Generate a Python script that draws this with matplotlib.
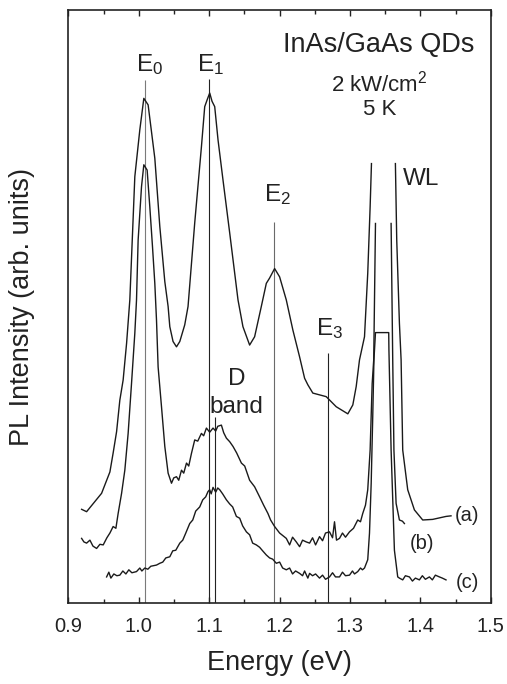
import numpy as np
import matplotlib
matplotlib.use("Agg")
import matplotlib.pyplot as plt
from matplotlib.ticker import MultipleLocator

plt.rcParams['font.family'] = ['Liberation Sans', 'DejaVu Sans']
plt.rcParams['mathtext.fontset'] = 'custom'
plt.rcParams['mathtext.rm'] = 'Liberation Sans'
plt.rcParams['mathtext.it'] = 'Liberation Sans:italic'
plt.rcParams['mathtext.bf'] = 'Liberation Sans:bold'

nan = np.nan

# ---- curve (a) ----
energy_a = [0.9187, 0.9258, 0.9471, 0.9589, 0.9635, 0.9684, 0.9730, 0.9777, 0.9826, 0.9872,
            0.9943, 1.0014, 1.0071, 1.0132, 1.0227, 1.0298, 1.0369, 1.0416, 1.0440, 1.0486,
            1.0535, 1.0582, 1.0652, 1.0699, 1.0794, 1.0889, 1.0936, 1.0975, 1.1007, 1.1040,
            1.1078, 1.1125, 1.1196, 1.1291, 1.1409, 1.1479, 1.1574, 1.1645, 1.1740, 1.1811,
            1.1858, 1.1929, 1.2000, 1.2095, 1.2189, 1.2284, 1.2355, 1.2401, 1.2472, 1.2662,
            1.2804, 1.2969, 1.3040, 1.3088, 1.3135, 1.3206, 1.3252, 1.3286, 1.3305, 1.3480,
            1.3645, 1.3664, 1.3702, 1.3726, 1.3749, 1.3820, 1.3915, 1.4033, 1.4174, 1.4364,
            1.4435]
int_a = [15.8, 15.4, 18.5, 22.1, 25.3, 28.9, 34.2, 37.6, 43.8, 51.1,
         71.9, 79.8, 85.1, 84.0, 75.0, 63.5, 54.2, 50.0, 46.6, 44.1,
         43.2, 44.1, 46.9, 50.0, 64.1, 76.9, 83.7, 85.0, 86.0, 84.6,
         83.7, 78.1, 71.3, 62.4, 51.1, 46.6, 43.5, 44.9, 50.0, 53.9,
         54.8, 56.4, 55.0, 51.1, 46.0, 41.5, 37.9, 36.8, 35.4, 34.8,
         33.1, 31.9, 33.4, 36.5, 41.0, 44.9, 55.6, 66.8, 74.1, nan,
         74.1, 61.2, 47.2, 41.0, 25.8, 19.1, 15.7, 14.0, 14.1, 14.6,
         14.7]

# ---- curve (b) ----
energy_b = [0.9187, 0.9220, 0.9258, 0.9305, 0.9348, 0.9400, 0.9447, 0.9494, 0.9546, 0.9589,
            0.9635, 0.9674, 0.9706, 0.9755, 0.9801, 0.9848, 0.9896, 0.9943, 0.9967, 0.9990,
            1.0038, 1.0071, 1.0118, 1.0156, 1.0194, 1.0227, 1.0251, 1.0274, 1.0322, 1.0369,
            1.0416, 1.0464, 1.0496, 1.0535, 1.0567, 1.0606, 1.0638, 1.0677, 1.0709, 1.0747,
            1.0794, 1.0837, 1.0889, 1.0921, 1.0960, 1.1007, 1.1054, 1.1092, 1.1121, 1.1173,
            1.1206, 1.1244, 1.1291, 1.1338, 1.1390, 1.1457, 1.1504, 1.1574, 1.1645, 1.1716,
            1.1773, 1.1834, 1.1872, 1.1929, 1.2000, 1.2095, 1.2142, 1.2184, 1.2237, 1.2284,
            1.2326, 1.2379, 1.2426, 1.2468, 1.2511, 1.2567, 1.2610, 1.2652, 1.2709, 1.2752,
            1.2780, 1.2808, 1.2851, 1.2893, 1.2936, 1.2993, 1.3050, 1.3110, 1.3149, 1.3181,
            1.3220, 1.3252, 1.3286, 1.3315, 1.3337, 1.3362, 1.3470, 1.3584, 1.3607, 1.3624,
            1.3655, 1.3702, 1.3745, 1.3773]
int_b = [10.9, 10.3, 10.1, 10.6, 9.6, 9.2, 9.9, 9.8, 11.0, 11.8,
         12.9, 12.6, 15.1, 18.5, 22.4, 28.6, 37.0, 45.5, 51.1, 61.2,
         70.2, 73.9, 73.0, 66.8, 60.1, 53.9, 47.7, 39.8, 33.1, 26.4,
         21.9, 20.2, 21.1, 21.3, 20.7, 22.4, 21.9, 23.6, 23.1, 25.2,
         27.5, 27.3, 28.6, 28.2, 29.5, 28.8, 29.5, 29.0, 29.8, 30.0,
         28.7, 27.8, 27.2, 26.4, 25.3, 23.6, 23.1, 20.7, 19.6, 17.9,
         16.5, 15.1, 14.0, 12.9, 11.8, 10.9, 9.8, 11.1, 10.3, 9.5,
         10.6, 10.3, 10.1, 11.0, 9.8, 11.2, 10.5, 11.8, 12.0, 11.0,
         13.7, 10.6, 10.9, 11.8, 11.1, 12.0, 12.6, 14.0, 13.7, 15.1,
         16.5, 19.1, 25.8, 37.0, 41.0, 64.0, nan, 64.0, 41.0, 25.8,
         16.8, 14.0, 13.8, 13.4]

# ---- curve (c) ----
energy_c = [0.9542, 0.9574, 0.9603, 0.9645, 0.9688, 0.9730, 0.9773, 0.9816, 0.9858, 0.9901,
            0.9967, 1.0014, 1.0043, 1.0085, 1.0128, 1.0170, 1.0251, 1.0298, 1.0340, 1.0383,
            1.0440, 1.0482, 1.0525, 1.0582, 1.0624, 1.0667, 1.0723, 1.0766, 1.0808, 1.0865,
            1.0908, 1.0950, 1.0983, 1.1007, 1.1028, 1.1054, 1.1092, 1.1121, 1.1149, 1.1191,
            1.1244, 1.1291, 1.1333, 1.1386, 1.1433, 1.1475, 1.1528, 1.1574, 1.1617, 1.1669,
            1.1716, 1.1759, 1.1811, 1.1858, 1.1901, 1.1953, 1.2000, 1.2043, 1.2095, 1.2142,
            1.2184, 1.2227, 1.2284, 1.2326, 1.2355, 1.2401, 1.2426, 1.2468, 1.2511, 1.2567,
            1.2610, 1.2652, 1.2709, 1.2752, 1.2794, 1.2851, 1.2893, 1.2936, 1.2993, 1.3035,
            1.3064, 1.3110, 1.3149, 1.3177, 1.3206, 1.3252, 1.3277, 1.3301, 1.3323, 1.3340,
            1.3362, 1.3550, 1.3553, 1.3584, 1.3631, 1.3678, 1.3702, 1.3749, 1.3787, 1.3844,
            1.3887, 1.3929, 1.3986, 1.4028, 1.4071, 1.4128, 1.4170, 1.4213, 1.4270, 1.4312,
            1.4364]
int_c = [4.4, 5.2, 4.2, 4.9, 4.6, 4.7, 5.4, 4.9, 5.6, 5.1,
         5.3, 5.9, 5.4, 5.9, 5.7, 6.2, 6.4, 6.7, 6.9, 7.6,
         7.8, 8.8, 8.9, 10.1, 10.6, 11.8, 13.4, 14.0, 15.5, 16.2,
         17.4, 17.9, 18.8, 19.1, 18.4, 19.5, 18.7, 19.4, 19.1, 18.4,
         17.4, 16.7, 16.2, 14.6, 14.3, 13.0, 12.0, 11.5, 10.1, 9.8,
         9.4, 8.8, 8.1, 7.6, 7.4, 6.7, 6.9, 5.9, 5.6, 5.9,
         4.9, 5.4, 5.0, 4.6, 5.4, 4.2, 5.0, 4.6, 4.9, 4.2,
         4.7, 4.0, 4.4, 5.1, 4.4, 4.4, 5.2, 4.6, 4.7, 5.4,
         4.9, 5.3, 5.9, 5.6, 5.9, 7.3, 11.8, 20.2, 31.4, 41.0,
         45.6, 45.6, 42.7, 25.8, 8.9, 4.4, 4.2, 3.9, 4.6, 4.4,
         3.7, 4.2, 3.9, 4.6, 4.0, 4.4, 3.9, 4.7, 4.4, 4.2,
         3.9]

# ---- transition markers ----
line_names = ["E0", "E1", "D", "E2", "E3"]
line_energy = [1.0085, 1.0997, 1.1080, 1.1925, 1.2685]
line_top = [88.2, 88.4, 31.4, 64.3, 42.1]
line_color = ['#7a7a7a', '#222222', '#222222', '#6a6a6a', '#222222']

fig = plt.figure(figsize=(5.07, 6.84), dpi=100)
ax = fig.add_axes([0.135, 0.1184, 0.833, 0.867])

for e, top, c in zip(line_energy, line_top, line_color):
    ax.plot([e, e], [0, top], color=c, lw=0.8, solid_capstyle='butt')

ax.plot(energy_a, int_a, color='#1a1a1a', lw=1.0)
ax.plot(energy_b, int_b, color='#1a1a1a', lw=1.0)
ax.plot(energy_c, int_c, color='#1a1a1a', lw=1.0)

ax.set_xlim(0.9, 1.5)
ax.set_ylim(0, 100)
ax.xaxis.set_minor_locator(MultipleLocator(0.05))
ax.set_xticks([0.9, 1.0, 1.1, 1.2, 1.3, 1.4, 1.5])
ax.set_xticklabels(["0.9", "1.0", "1.1", "1.2", "1.3", "1.4", "1.5"])
ax.set_yticks([])
ax.tick_params(axis='x', which='both', direction='in', top=True, bottom=True,
               labelsize=14.5, pad=10, width=1.0, color='#222222', labelcolor='#222222')
ax.tick_params(axis='x', which='major', length=4)
ax.tick_params(axis='x', which='minor', length=3)
for s in ax.spines.values():
    s.set_linewidth(1.2)
    s.set_color('#222222')

ax.set_xlabel("Energy (eV)", fontsize=19.5, labelpad=10, color='#222222')
ax.set_ylabel("PL Intensity (arb. units)", fontsize=19.5, color='#222222')
ax.yaxis.set_label_coords(-0.08, 0.5)

tc = '#222222'
ax.text(1.0156, 89.7, "E$_0$", fontsize=17.5, ha='center', va='baseline', color=tc)
ax.text(1.1021, 89.7, "E$_1$", fontsize=17.5, ha='center', va='baseline', color=tc)
ax.text(1.1972, 67.7, "E$_2$", fontsize=17.5, ha='center', va='baseline', color=tc)
ax.text(1.2709, 45.2, "E$_3$", fontsize=17.5, ha='center', va='baseline', color=tc)
ax.text(1.4010, 70.5, "WL", fontsize=17.5, ha='center', va='baseline', color=tc)
ax.text(1.1397, 36.8, "D", fontsize=17.5, ha='center', va='baseline', color=tc)
ax.text(1.1383, 32.0, "band", fontsize=17.5, ha='center', va='baseline', color=tc)
ax.text(1.3404, 92.9, "InAs/GaAs QDs", fontsize=19.5, ha='center', va='baseline', color=tc)
ax.text(1.3418, 86.2, "2 kW/cm$^2$", fontsize=16, ha='center', va='baseline', color=tc)
ax.text(1.3425, 82.3, "5 K", fontsize=16, ha='center', va='baseline', color=tc)
ax.text(1.4667, 14.8, "(a)", fontsize=14.5, ha='center', va='center', color=tc)
ax.text(1.4029, 10.1, "(b)", fontsize=14.5, ha='center', va='center', color=tc)
ax.text(1.4667, 3.4, "(c)", fontsize=14.5, ha='center', va='center', color=tc)

fig.savefig("out.png", dpi=100)
